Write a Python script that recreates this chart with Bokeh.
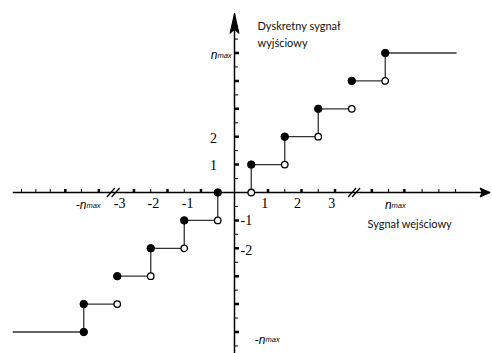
from bokeh.plotting import figure
from bokeh.models import Range1d
from bokeh.core.properties import value
from bokeh.embed import file_html
from bokeh.resources import INLINE

# ---------------- data (signal units) ----------------
# horizontal step segments
h_x0 = [0.5, 1.5, 2.5, 3.5, 4.5, -1.5, -2.5, -3.5, -4.5, -6.62]
h_x1 = [1.5, 2.5, 3.5, 4.5, 6.63, -0.5, -1.5, -2.5, -3.5, -4.5]
h_y = [1, 2, 3, 4, 5, -1, -2, -3, -4, -5]
# vertical risers
v_x = [0.5, 1.5, 2.5, 4.5, -0.5, -1.5, -2.5, -4.5]
v_y0 = [0, 1, 2, 4, 0, -1, -2, -4]
v_y1 = [1, 2, 3, 5, -1, -2, -3, -5]
# filled / open endpoints
fill_x = [0.5, 1.5, 2.5, 3.5, 4.5, -0.5, -1.5, -2.5, -3.5, -4.5, -4.5]
fill_y = [1, 2, 3, 4, 5, 0, -1, -2, -3, -4, -5]
open_x = [0.5, 1.5, 2.5, 3.5, 4.5, -0.5, -1.5, -2.5, -3.5]
open_y = [0, 1, 2, 3, 4, -1, -2, -3, -4]

# axis ticks
xmaj = [1, 2, 3, 4.1, 5.07, -1, -2, -3, -4.05, -5.05]
xmin = [0.5, 1.5, 2.5, 4.6, 5.6, 6.1, 6.6, -0.5, -1.5, -2.5, -4.57, -5.5, -5.93, -6.36]
ymaj = [1, 2, 3, 4, 5, -1, -2, -3, -4, -5]
ymin = [0.5, 1.5, 2.5, 3.5, 4.5, 5.5, -0.5, -1.5, -2.5, -3.5, -4.5, -5.5]

# axis extents and breaks
x_axis = [-6.62, 7.63]
y_axis = [-6.0, 6.42]
breaks_x = [3.51, 3.63, -3.69, -3.55]

# tick labels
xlab_text = ["1", "2", "3", "-1", "-2", "-3"]
xlab_x = [0.90, 1.88, 2.90, -1.40, -2.42, -3.43]
ylab_text = ["1", "2"]
ylab_y = [1.0, 1.97]
ylabn_text = ["-1", "-2"]
ylabn_y = [-0.97, -2.05]

# ---------------- figure ----------------
W, H = 492, 353
PXX = 33.5   # px per unit, x
PXY = 27.9   # px per unit, y
OX, OY = 234, 192
X0, X1 = (0 - OX) / PXX, (W - OX) / PXX
Y0, Y1 = (OY - H) / PXY, (OY - 0) / PXY

p = figure(width=W, height=H, output_backend="svg", toolbar_location=None,
           x_range=Range1d(X0, X1), y_range=Range1d(Y0, Y1), min_border=0,
           x_axis_location=None, y_axis_location=None)
p.grid.visible = False
p.outline_line_color = None
p.background_fill_color = "white"
p.border_fill_color = "white"

# axes
p.line(x_axis, [0, 0], line_color="black", line_width=1.5)
p.line([0, 0], y_axis, line_color="black", line_width=1.5)

# arrow heads
xt = x_axis[1]
hl, hw, hn = 10 / PXX, 4.5 / PXY, 2 / PXX
p.patch([xt, xt - hl, xt - hl + hn, xt - hl], [0, hw, 0, -hw], color="black")
yt = y_axis[1]
vl, vw, vn = 20 / PXY, 4.5 / PXX, 4 / PXY
p.patch([0, -vw, 0, vw], [yt, yt - vl, yt - vl + vn, yt - vl], color="black")

# x ticks
p.segment(x0=xmaj, y0=[-0.5 / PXY] * len(xmaj), x1=xmaj, y1=[3.5 / PXY] * len(xmaj),
          line_color="black", line_width=2.5, line_cap="butt")
p.segment(x0=xmin, y0=[0] * len(xmin), x1=xmin, y1=[3.5 / PXY] * len(xmin),
          line_color="black", line_width=1, line_cap="butt")
# y ticks
p.segment(x0=[0] * len(ymaj), y0=ymaj, x1=[4.5 / PXX] * len(ymaj), y1=ymaj,
          line_color="black", line_width=2.5, line_cap="butt")
p.segment(x0=[0] * len(ymin), y0=ymin, x1=[3.5 / PXX] * len(ymin), y1=ymin,
          line_color="black", line_width=1, line_cap="butt")

# axis breaks "//"
bdx, bdy = 4 / PXX, 4.5 / PXY
p.segment(x0=[b - bdx for b in breaks_x], y0=[-bdy] * 4,
          x1=[b + bdx for b in breaks_x], y1=[bdy] * 4,
          line_color="black", line_width=1.3)

# staircase
p.segment(x0=h_x0, y0=h_y, x1=h_x1, y1=h_y, line_color="#333333", line_width=1.3)
p.segment(x0=v_x, y0=v_y0, x1=v_x, y1=v_y1, line_color="#333333", line_width=1.3)
p.scatter(fill_x, fill_y, marker="circle", size=7.5, fill_color="black", line_color="black")
p.scatter(open_x, open_y, marker="circle", size=6.5, fill_color="white",
          line_color="black", line_width=1.3)

serif = value("Liberation Serif")
# x labels
p.text(x=xlab_x, y=[-0.36] * len(xlab_x), text=xlab_text, text_font=serif,
       text_font_size=value("14px"), text_align="center", text_baseline="middle",
       text_color="black")
# y labels
p.text(x=[-0.63] * 2, y=ylab_y, text=ylab_text, text_font=serif,
       text_font_size=value("14px"), text_align="center", text_baseline="middle",
       text_color="black")
p.text(x=[0.18] * 2, y=ylabn_y, text=ylabn_text, text_font=serif,
       text_font_size=value("14px"), text_align="left", text_baseline="middle",
       text_color="black")

# n_max labels: big italic "n" + small "max"
nm_split_x = [4.69, -4.42, -0.51, 0.925]
nm_y = [-0.45, -0.45, 4.92, -5.28]
nm_n = ["n", "-n", "n", "-n"]
p.text(x=nm_split_x, y=nm_y, text=nm_n, text_font=value("Liberation Sans"),
       text_font_style="italic", text_font_size=value("12px"),
       text_align="right", text_baseline="alphabetic", text_color="black")
p.text(x=nm_split_x, y=nm_y, text=["max"] * 4, text_font=value("Liberation Sans"),
       text_font_style="italic", text_font_size=value("7.5px"),
       text_align="left", text_baseline="alphabetic", text_color="black")

# axis titles
sans = value("Lato")
p.text(x=[0.687, 0.687], y=[5.99, 5.38], text=["Dyskretny sygnał", "wyjściowy"],
       text_font=sans, text_font_size=value("11px"), text_align="left",
       text_baseline="middle", text_color="#111111")
p.text(x=[3.97], y=[-1.11], text=["Sygnał wejściowy"], text_font=sans,
       text_font_size=value("11px"), text_align="left", text_baseline="middle",
       text_color="#111111")

open("out.html", "w").write(file_html(p, INLINE))
